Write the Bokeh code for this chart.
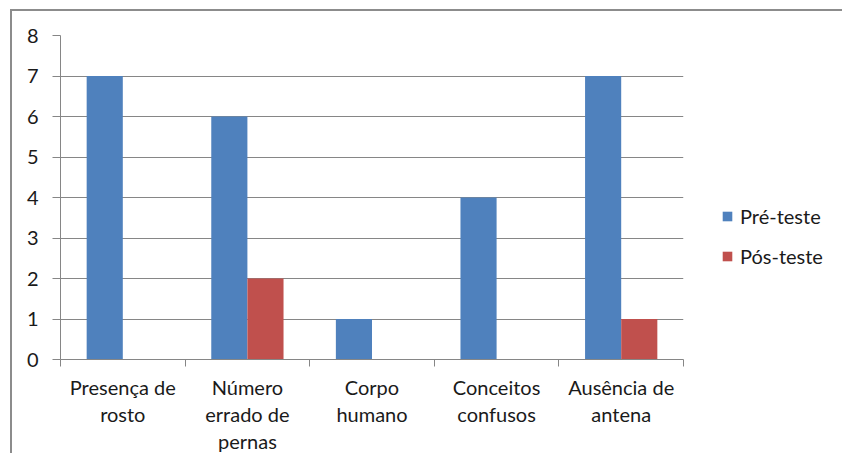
from bokeh.plotting import figure
from bokeh.models import (ColumnDataSource, FixedTicker, Legend, LegendItem, Range1d)
from bokeh.transform import dodge
from bokeh.embed import file_html
from bokeh.resources import INLINE

categories = ["Presença de\nrosto", "Número\nerrado de\npernas", "Corpo\nhumano",
              "Conceitos\nconfusos", "Ausência de\nantena"]
pre_teste = [7, 6, 1, 4, 7]
pos_teste = [0, 2, 0, 0, 1]
series_names = ["Pré-teste", "Pós-teste"]
y_ticks = [0, 1, 2, 3, 4, 5, 6, 7, 8]

FONT = "Lato"
FS = "20px"
GRID = "#868686"
TEXT = "#1a1a1a"

xpos = [i + 0.5 for i in range(len(categories))]
src = ColumnDataSource(dict(x=xpos, pre=pre_teste, pos=pos_teste))

p = figure(frame_width=623, height=444, output_backend="svg", toolbar_location=None,
           x_range=Range1d(0, len(categories)), y_range=Range1d(0, 8),
           min_border_left=48, min_border_right=0, min_border_top=24,
           min_border_bottom=96)
p.outline_line_color = None
p.styles = {"margin-left": "10px", "margin-top": "9px",
            "border-left": "2px solid #8c8c8c", "border-top": "2px solid #8c8c8c"}

bw = 0.29
r1 = p.vbar(x=dodge("x", -bw / 2, range=p.x_range), top="pre", width=bw,
            source=src, fill_color="#4F81BD", line_color=None)
r2 = p.vbar(x=dodge("x", bw / 2, range=p.x_range), top="pos", width=bw,
            source=src, fill_color="#C0504D", line_color=None)

# x axis: labels at category centres, ticks at boundaries
p.xaxis.ticker = FixedTicker(ticks=xpos, minor_ticks=list(range(len(categories) + 1)))
p.xaxis.major_label_overrides = {x: c for x, c in zip(xpos, categories)}
p.xaxis.major_tick_out = 0
p.xaxis.major_tick_in = 0
p.xaxis.minor_tick_out = 7
p.xaxis.minor_tick_in = 0
p.xaxis.minor_tick_line_color = GRID
p.xaxis.axis_line_color = GRID
p.xaxis.major_label_text_font = FONT
p.xaxis.major_label_text_font_size = FS
p.xaxis.major_label_text_color = TEXT
p.xaxis.major_label_standoff = 8
p.xaxis.major_label_text_line_height = 1.13

p.yaxis.ticker = FixedTicker(ticks=y_ticks)
p.yaxis.major_tick_out = 8
p.yaxis.major_tick_in = 0
p.yaxis.minor_tick_line_color = None
p.yaxis.major_tick_line_color = GRID
p.yaxis.axis_line_color = GRID
p.yaxis.major_label_text_font = FONT
p.yaxis.major_label_text_font_size = FS
p.yaxis.major_label_text_color = TEXT
p.yaxis.major_label_standoff = 14

p.xgrid.grid_line_color = None
p.ygrid.grid_line_color = GRID
p.ygrid.ticker = FixedTicker(ticks=y_ticks)

legend = Legend(items=[LegendItem(label=series_names[0], renderers=[r1]),
                       LegendItem(label=series_names[1], renderers=[r2])],
                location=(38, 91), orientation="vertical",
                glyph_width=12, glyph_height=12, label_height=20,
                spacing=16, padding=0, margin=0, label_standoff=7,
                label_text_font=FONT, label_text_font_size=FS,
                label_text_color=TEXT, border_line_color=None,
                background_fill_alpha=0)
p.add_layout(legend, "right")

open("out.html", "w").write(file_html(p, INLINE))
